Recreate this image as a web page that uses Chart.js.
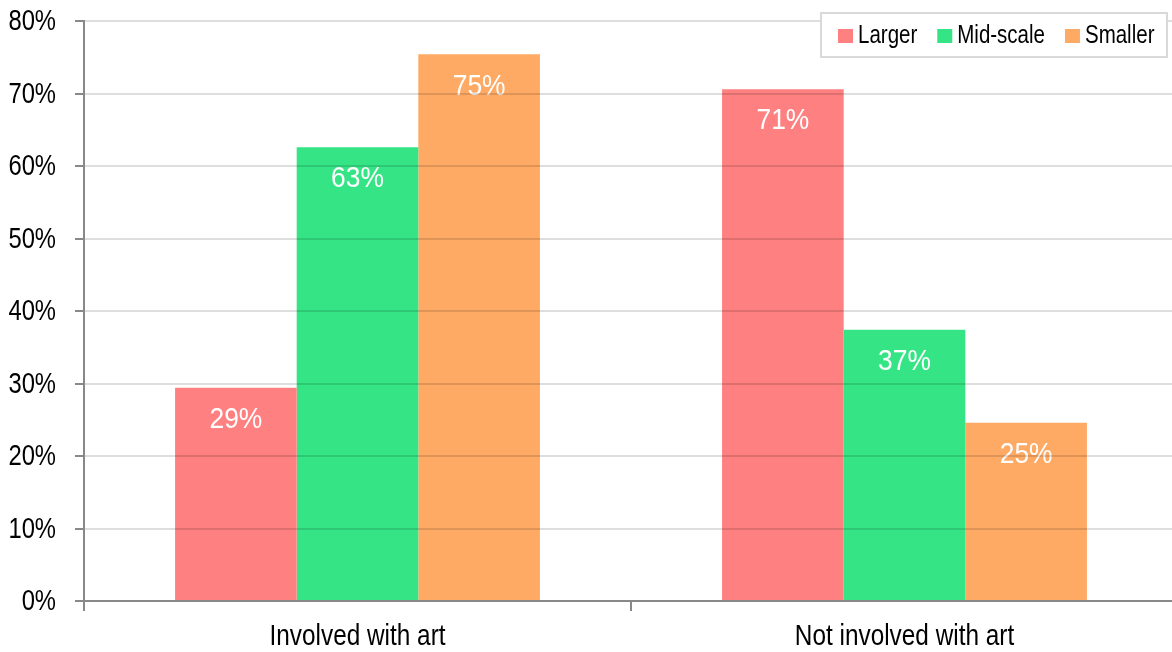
<!DOCTYPE html>
<html>
<head>
<meta charset="utf-8">
<script src="https://cdn.jsdelivr.net/npm/chart.js@4/dist/chart.umd.min.js"></script>
<style>
  html, body { margin: 0; padding: 0; background: #fff; overflow: hidden; }
  #wrap { width: 1178px; height: 652px; }
</style>
</head>
<body>
<div id="wrap"><canvas id="chart"></canvas></div>
<script>
// Datos
const categories = ['Involved with art', 'Not involved with art'];
const seriesNames = ['Larger', 'Mid-scale', 'Smaller'];
const larger = [29.4, 70.6];
const midScale = [62.6, 37.4];
const smaller = [75.4, 24.6];
const yTicks = [0, 10, 20, 30, 40, 50, 60, 70, 80];

const colors = ['#FF8080', '#35E585', '#FFAA64'];
const FONT = '"Liberation Sans", Arial, sans-serif';
const SQUEEZE = 0.82; // texto estrecho, tipo Arial Narrow

// Dibuja texto comprimido horizontalmente
function narrowText(ctx, text, x, y, size, color, align, squeeze = SQUEEZE) {
  ctx.save();
  ctx.translate(x, y);
  ctx.scale(squeeze, 1);
  ctx.font = size + 'px ' + FONT;
  ctx.fillStyle = color;
  ctx.textAlign = align;
  ctx.textBaseline = 'middle';
  ctx.fillText(text, 0, 0);
  ctx.restore();
}

// Textos de los ejes
const axisText = {
  id: 'axisText',
  afterDraw(chart) {
    const ctx = chart.ctx;
    const { x, y } = chart.scales;
    yTicks.forEach(v => narrowText(ctx, v + '%', 56, y.getPixelForValue(v) + 1, 29, '#000', 'right'));
    categories.forEach((c, i) => narrowText(ctx, c, x.getPixelForTick(i), 637, 29, '#000', 'center', 0.84));
  }
};

// Etiquetas blancas dentro de cada barra
const barLabels = {
  id: 'barLabels',
  afterDatasetsDraw(chart) {
    const ctx = chart.ctx;
    chart.data.datasets.forEach((ds, i) => {
      chart.getDatasetMeta(i).data.forEach((bar, j) => {
        narrowText(ctx, Math.round(ds.data[j]) + '%', bar.x, bar.y + 32, 30, '#fff', 'center', 0.88);
      });
    });
  }
};

// Leyenda con marco dentro del área del gráfico
const boxLegend = {
  id: 'boxLegend',
  afterDraw(chart) {
    const ctx = chart.ctx;
    ctx.save();
    ctx.fillStyle = '#fff';
    ctx.fillRect(821, 13, 346, 44);
    ctx.strokeStyle = '#d9d9d9';
    ctx.lineWidth = 2;
    ctx.strokeRect(821, 13, 346, 44);
    ctx.font = '25px ' + FONT;
    let px = 838;
    chart.data.datasets.forEach((ds) => {
      ctx.fillStyle = ds.backgroundColor;
      ctx.fillRect(px, 29, 15, 14);
      narrowText(ctx, ds.label, px + 20, 36, 25, '#000', 'left');
      px += 20 + ctx.measureText(ds.label).width * SQUEEZE + 20;
    });
    ctx.restore();
  }
};

new Chart(document.getElementById('chart'), {
  type: 'bar',
  data: {
    labels: categories,
    datasets: [
      { label: seriesNames[0], data: larger, backgroundColor: colors[0] },
      { label: seriesNames[1], data: midScale, backgroundColor: colors[1] },
      { label: seriesNames[2], data: smaller, backgroundColor: colors[2] }
    ]
  },
  options: {
    responsive: true,
    maintainAspectRatio: false,
    animation: false,
    layout: { padding: { top: 21, right: 0, left: 0, bottom: 0 } },
    datasets: { bar: { categoryPercentage: 0.667, barPercentage: 1.0 } },
    plugins: {
      legend: { display: false },
      tooltip: { enabled: false }
    },
    scales: {
      x: {
        afterFit(scale) { scale.height = 51; },
        grid: { drawOnChartArea: false, drawTicks: true, tickLength: 10, tickColor: '#888', offset: true, lineWidth: 2 },
        border: { color: '#888', width: 2, z: 2 },
        ticks: { display: false }
      },
      y: {
        min: 0,
        max: 80,
        afterFit(scale) { scale.width = 84; },
        afterBuildTicks(scale) { scale.ticks = yTicks.map(v => ({ value: v })); },
        grid: { color: 'rgba(0,0,0,0.13)', lineWidth: 2, z: 1, tickLength: 9, tickColor: '#888' },
        border: { color: '#888', width: 2, z: 2 },
        ticks: { display: false }
      }
    }
  },
  plugins: [barLabels, axisText, boxLegend]
});
</script>
</body>
</html>
